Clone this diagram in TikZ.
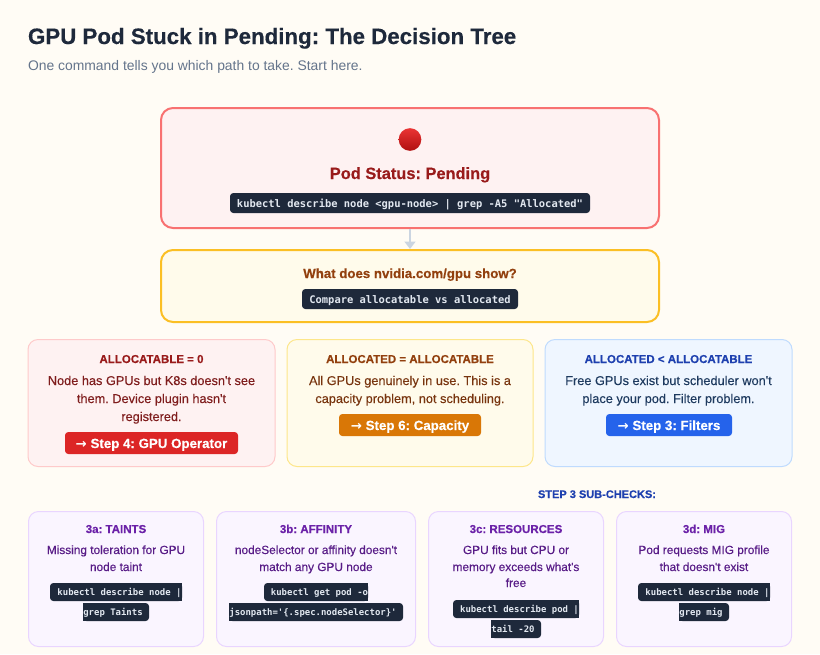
\documentclass[tikz,border=0pt]{standalone}
\usepackage{fontspec}
\setmainfont{Liberation Sans}
\newfontfamily\bodyfont{Liberation Sans}[FakeBold=0.2]
\newfontfamily\boldfont{Liberation Sans Bold}[FakeBold=0.35]
\newfontfamily\chipfont{DejaVu Sans Mono Bold}
\newfontfamily\arrowfont{DejaVu Sans Bold}
\definecolor{bgc}{HTML}{FFFCF5}
\definecolor{chipbg}{HTML}{1E293B}
\definecolor{chipfg}{HTML}{E2E8F0}
\definecolor{redfill}{HTML}{FEF2F2}
\definecolor{redstroke}{HTML}{F87171}
\definecolor{redsoft}{HTML}{FECACA}
\definecolor{redtitle}{HTML}{991B1B}
\definecolor{redbody}{HTML}{7F1D1D}
\definecolor{redbtn}{HTML}{DC2626}
\definecolor{ambfill}{HTML}{FFFBEB}
\definecolor{ambstroke}{HTML}{FBBF24}
\definecolor{ambsoft}{HTML}{FDE68A}
\definecolor{ambtitle}{HTML}{92400E}
\definecolor{ambbody}{HTML}{78350F}
\definecolor{ambbtn}{HTML}{D97706}
\definecolor{blufill}{HTML}{EFF6FF}
\definecolor{blusoft}{HTML}{BFDBFE}
\definecolor{blutitle}{HTML}{1E40AF}
\definecolor{blubody}{HTML}{1E3A5F}
\definecolor{blubtn}{HTML}{2563EB}
\definecolor{purfill}{HTML}{FAF5FF}
\definecolor{pursoft}{HTML}{E9D5FF}
\definecolor{purtitle}{HTML}{6B21A8}
\definecolor{purbody}{HTML}{581C87}
\definecolor{arrowc}{HTML}{CBD5E1}
\definecolor{titlec}{HTML}{1E293B}
\definecolor{subc}{HTML}{64748B}
\definecolor{emojitop}{HTML}{EA3434}
\definecolor{emojibot}{HTML}{B01010}
\newcommand{\setpx}[1]{\fontsize{\dimexpr#1pt*3/4\relax}{\dimexpr#1pt\relax}\selectfont}
\usetikzlibrary{arrows.meta}
\tikzset{
  x=0.75pt,y=-0.75pt,
  sz/.style 2 args={minimum width=#1*0.75pt,minimum height=#2*0.75pt},
  panel/.style={rectangle,rounded corners=9pt,line width=1.5pt,inner sep=0pt,outer sep=0pt},
  card/.style={rectangle,rounded corners=7.5pt,line width=0.75pt,inner sep=0pt,outer sep=0pt},
  btn/.style={rectangle,rounded corners=2.5pt,inner sep=0pt,outer sep=0pt},
  txt/.style={anchor=base,inner sep=0pt,outer sep=0pt,align=center},
  chiptxt/.style={txt,text=chipfg,font=\chipfont\setpx{10.45}},
  chipsm/.style={txt,text=chipfg,font=\chipfont\setpx{8.96}},
  cardhead/.style={txt,font=\boldfont\setpx{11.5}},
  cardbody/.style={txt,font=\bodyfont\setpx{12.75}},
  subbody/.style={txt,font=\bodyfont\setpx{11.85}},
  btntxt/.style={txt,text=white,font=\boldfont\setpx{13.3}},
  chipbox/.style={fill=chipbg,rounded corners=2.5pt},
}
% full chip: x1 y1 x2 y2
\newcommand{\chipfull}[4]{\fill[chipbox] (#1,#2) rectangle (#3,#4);}
% chip wrapped at right end
\newcommand{\chipopenr}[4]{\fill[chipbox] (#1,#2) rectangle (#3,#4);\fill[chipbg] (#1+6,#2) rectangle (#3,#4);}
% chip wrapped at left end
\newcommand{\chipopenl}[4]{\fill[chipbox] (#1,#2) rectangle (#3,#4);\fill[chipbg] (#1,#2) rectangle (#3-6,#4);}
\begin{document}
\frenchspacing
\begin{tikzpicture}
\useasboundingbox (0,0) rectangle (820,654);
\fill[bgc] (0,0) rectangle (820,654);
% heading
\node[txt,anchor=base west,text=titlec,font=\boldfont\setpx{22.3}] (title) at (28,44) {GPU Pod Stuck in Pending: The Decision Tree};
\node[txt,anchor=base west,text=subc,font=\rmfamily\setpx{13.9}] (subtitle) at (28,70) {One command tells you which path to take. Start here.};
% top panels
\node[panel,draw=redstroke,fill=redfill,sz={498}{120}] (pending) at (410,168) {};
\node[panel,draw=ambstroke,fill=ambfill,sz={498}{72}] (question) at (410,286) {};
\draw[arrowc,line width=2pt,shorten <=0.75pt,shorten >=0.75pt,-{Triangle[length=5.5pt,width=8pt]}] (pending.south) -- (question.north);
\node[circle,minimum size=17pt,inner sep=0pt,top color=emojitop,bottom color=emojibot] (emoji) at (410,139.5) {};
\node[txt,text=redtitle,font=\boldfont\setpx{16.4}] (pendtitle) at (410,179) {Pod Status: Pending};
\chipfull{230}{193}{590}{213}
\node[chiptxt] (pendcmd) at (410,207) {kubectl describe node <gpu-node> | grep -A5 "Allocated"};
\node[txt,text=ambtitle,font=\boldfont\setpx{13.25}] (qtitle) at (410,278) {What does nvidia.com/gpu show?};
\chipfull{302}{289}{518}{309}
\node[chiptxt] (qcmd) at (410,303) {Compare allocatable vs allocated};
% three outcome cards
\node[card,draw=redsoft,fill=redfill,sz={247}{127}] (cardA) at (151.5,403) {};
\node[card,draw=ambsoft,fill=ambfill,sz={246}{127}] (cardB) at (410,403) {};
\node[card,draw=blusoft,fill=blufill,sz={247}{127}] (cardC) at (668.5,403) {};
\node[cardhead,text=redtitle] (ah) at (151.5,363) {ALLOCATABLE = 0};
\node[cardbody,text=redbody] (ab1) at (151.5,385) {Node has GPUs but K8s doesn't see};
\node[cardbody,text=redbody] (ab2) at (151.5,403) {them. Device plugin hasn't};
\node[cardbody,text=redbody] (ab3) at (151.5,421) {registered.};
\node[btn,fill=redbtn,sz={173}{22}] (abtn) at (151.5,443) {};
\node[btntxt] at (151.5,448) (abtnt) {{\arrowfont→} Step 4: GPU Operator};
\node[cardhead,text=ambtitle] (bh) at (410,363) {ALLOCATED = ALLOCATABLE};
\node[cardbody,text=ambbody] (bb1) at (410,385) {All GPUs genuinely in use. This is a};
\node[cardbody,text=ambbody] (bb2) at (410,403) {capacity problem, not scheduling.};
\node[btn,fill=ambbtn,sz={142}{22}] (bbtn) at (410,425) {};
\node[btntxt] at (410,430) (bbtnt) {{\arrowfont→} Step 6: Capacity};
\node[cardhead,text=blutitle] (ch) at (668.5,363) {ALLOCATED < ALLOCATABLE};
\node[cardbody,text=blubody] (cb1) at (668.5,385) {Free GPUs exist but scheduler won't};
\node[cardbody,text=blubody] (cb2) at (668.5,403) {place your pod. Filter problem.};
\node[btn,fill=blubtn,sz={126}{22}] (cbtn) at (669,425) {};
\node[btntxt] at (669,430) (cbtnt) {{\arrowfont→} Step 3: Filters};
% sub-checks
\node[txt,text=blutitle,font=\boldfont\setpx{11}] (subhead) at (597,498) {STEP 3 SUB-CHECKS:};
\node[card,draw=pursoft,fill=purfill,sz={175}{135}] (subA) at (116,579) {};
\node[card,draw=pursoft,fill=purfill,sz={199}{135}] (subB) at (316,579) {};
\node[card,draw=pursoft,fill=purfill,sz={175}{135}] (subC) at (516,579) {};
\node[card,draw=pursoft,fill=purfill,sz={175}{135}] (subD) at (704,579) {};
% 3a
\node[cardhead,text=purtitle] (sah) at (116,533) {3a: TAINTS};
\node[subbody,text=purbody] (sab1) at (116,554) {Missing toleration for GPU};
\node[subbody,text=purbody] (sab2) at (116,571) {node taint};
\chipopenr{50}{583}{182}{601}
\chipopenl{83}{603}{149}{621}
\node[chipsm] (sac1) at (119.5,595) {kubectl describe node |};
\node[chipsm] (sac2) at (113,615) {grep Taints};
% 3b
\node[cardhead,text=purtitle] (sbh) at (316,533) {3b: AFFINITY};
\node[subbody,text=purbody] (sbb1) at (316,554) {nodeSelector or affinity doesn't};
\node[subbody,text=purbody] (sbb2) at (316,571) {match any GPU node};
\chipopenr{264}{583}{368}{601}
\chipopenl{229}{603}{403}{621}
\node[chipsm] (sbc1) at (319.5,595) {kubectl get pod -o};
\node[chipsm] (sbc2) at (313,615) {jsonpath='\{.spec.nodeSelector\}'};
% 3c
\node[cardhead,text=purtitle] (sch) at (516,533) {3c: RESOURCES};
\node[subbody,text=purbody] (scb1) at (516,554) {GPU fits but CPU or};
\node[subbody,text=purbody] (scb2) at (516,571) {memory exceeds what's};
\node[subbody,text=purbody] (scb3) at (516,587) {free};
\chipopenr{453}{600}{579}{618}
\chipopenl{491}{620}{541}{638}
\node[chipsm] (scc1) at (519.5,612) {kubectl describe pod |};
\node[chipsm] (scc2) at (513,632) {tail -20};
% 3d
\node[cardhead,text=purtitle] (sdh) at (704,533) {3d: MIG};
\node[subbody,text=purbody] (sdb1) at (704,554) {Pod requests MIG profile};
\node[subbody,text=purbody] (sdb2) at (704,571) {that doesn't exist};
\chipopenr{638}{583}{770}{601}
\chipopenl{679}{603}{729}{621}
\node[chipsm] (sdc1) at (707.5,595) {kubectl describe node |};
\node[chipsm] (sdc2) at (701,615) {grep mig};
\end{tikzpicture}
\end{document}
